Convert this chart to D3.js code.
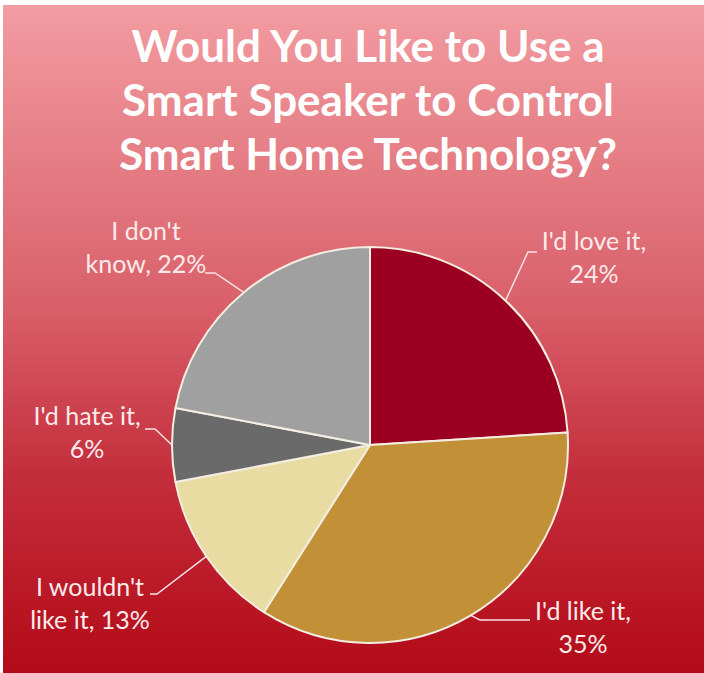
<!DOCTYPE html>
<html>
<head>
<meta charset="utf-8">
<script src="https://cdn.jsdelivr.net/npm/d3@7"></script>
<style>
  html, body { margin: 0; padding: 0; background: #ffffff; }
  svg { display: block; }
</style>
</head>
<body>
<svg id="chart" width="704" height="673"></svg>
<script>
// Survey answers, clockwise from 12 o'clock
const categories = ["I'd love it", "I'd like it", "I wouldn't like it", "I'd hate it", "I don't know"];
const values = [24, 35, 13, 6, 22];
const sliceColors = ["#9c0020", "#c29036", "#e8dca2", "#6a6a6a", "#a0a0a0"];
// Data label text, one array of lines per slice
const labelLines = [
  ["I'd love it,", "24%"],
  ["I'd like it,", "35%"],
  ["I wouldn't", "like it, 13%"],
  ["I'd hate it,", "6%"],
  ["I don't", "know, 22%"]
];
const titleLines = ["Would You Like to Use a", "Smart Speaker to Control", "Smart Home Technology?"];

const W = 704, H = 673;
const cx = 370, cy = 445, R = 198;

// Label placement relative to pie centre: text anchor (x, first baseline) and leader elbow
const labelLayout = [
  { x: 224, y: -195, elbow: [158, -193], end: [167, -193] },
  { x: 213, y: 175,  elbow: [110, 175],  end: [160, 175] },
  { x: -280, y: 151, elbow: [-213, 149], end: [-220, 149] },
  { x: -283, y: -20, elbow: [-215, -16], end: [-225, -16] },
  { x: -224, y: -205, elbow: [-155, -172], end: [-165, -172] }
];

const svg = d3.select("#chart");
const defs = svg.append("defs");
const grad = defs.append("linearGradient")
  .attr("id", "bg").attr("x1", 0).attr("y1", 0).attr("x2", 0).attr("y2", 1);
grad.append("stop").attr("offset", "0%").attr("stop-color", "#f29ca1");
grad.append("stop").attr("offset", "45%").attr("stop-color", "#d9606a");
grad.append("stop").attr("offset", "70%").attr("stop-color", "#c42e3c");
grad.append("stop").attr("offset", "100%").attr("stop-color", "#b30a18");

svg.append("rect")
  .attr("x", 3).attr("y", 5).attr("width", W - 3).attr("height", H - 5)
  .attr("fill", "url(#bg)");

// Title
svg.append("text")
  .attr("text-anchor", "middle")
  .attr("font-family", "Lato, 'Open Sans', sans-serif")
  .attr("font-weight", "bold")
  .attr("font-size", 44)
  .attr("fill", "#ffffff")
  .selectAll("tspan")
  .data(titleLines)
  .join("tspan")
  .attr("x", 368)
  .attr("y", (d, i) => 62 + i * 54)
  .text(d => d);

// Pie
const pie = d3.pie().sort(null).value(d => d)
  .startAngle(0).endAngle(2 * Math.PI);
const arcs = pie(values);
const arc = d3.arc().innerRadius(0).outerRadius(R);
const edgeArc = d3.arc().innerRadius(R).outerRadius(R);

const g = svg.append("g").attr("transform", `translate(${cx},${cy})`);

g.selectAll("path.slice")
  .data(arcs)
  .join("path")
  .attr("class", "slice")
  .attr("d", arc)
  .attr("fill", (d, i) => sliceColors[i])
  .attr("stroke", "#f4ede2")
  .attr("stroke-width", 2)
  .attr("stroke-linejoin", "round");

// Leader lines from slice edge to label
g.selectAll("polyline.leader")
  .data(arcs)
  .join("polyline")
  .attr("class", "leader")
  .attr("points", (d, i) => {
    const p = edgeArc.centroid(d);
    const L = labelLayout[i];
    return [p, L.elbow, L.end].map(q => q.join(",")).join(" ");
  })
  .attr("fill", "none")
  .attr("stroke", "#f7e3e3")
  .attr("stroke-width", 1.5);

// Data labels
const labels = g.selectAll("text.lbl")
  .data(arcs)
  .join("text")
  .attr("class", "lbl")
  .attr("text-anchor", "middle")
  .attr("font-family", "Lato, 'Open Sans', sans-serif")
  .attr("font-size", 25)
  .attr("fill", "#fbeaea");

labels.selectAll("tspan")
  .data((d, i) => labelLines[i].map(t => ({ t, i })))
  .join("tspan")
  .attr("x", d => labelLayout[d.i].x)
  .attr("y", (d, j) => labelLayout[d.i].y + j * 33)
  .text(d => d.t);
</script>
</body>
</html>
